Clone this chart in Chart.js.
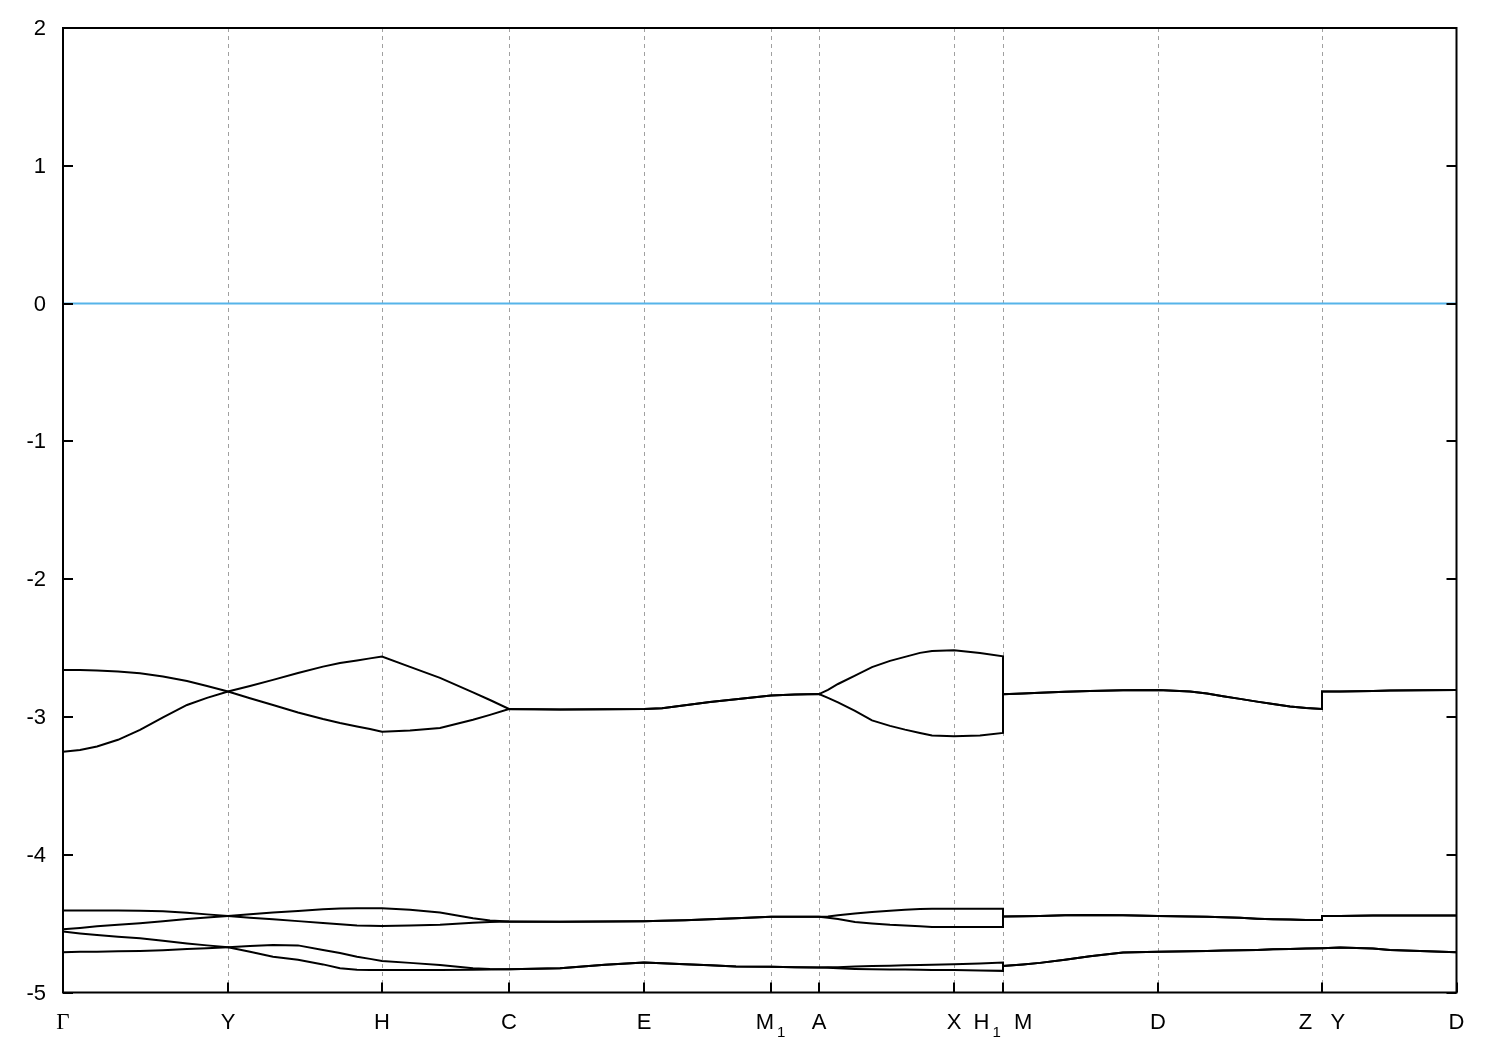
<!DOCTYPE html>
<html>
<head>
<meta charset="utf-8">
<script src="https://cdn.jsdelivr.net/npm/chart.js@4/dist/chart.umd.min.js"></script>
<style>
html,body{margin:0;padding:0;background:#ffffff;}
#c{display:block;}
</style>
</head>
<body>
<canvas id="c" width="1500" height="1050"></canvas>
<script>
// High-symmetry points along the k-path
const kTicks  = [0, 0.165, 0.319, 0.446, 0.581, 0.708, 0.756, 0.891, 0.940, 1.095, 1.259, 1.3935];
const kLabels = ["Γ", "Y", "H", "C", "E", "M_1", "A", "X", "H_1  M", "D", "Z   Y", "D"];
const yTicks  = [2, 1, 0, -1, -2, -3, -4, -5];
const fermiLevel = 0;

// k-points sampled along the path (a repeated k marks a discontinuity)
const kGrid = [
  0, 0.017, 0.034, 0.055, 0.077, 0.100, 0.124, 0.144, 0.165,
  0.187, 0.210, 0.235, 0.260, 0.277, 0.294, 0.307, 0.319,
  0.347, 0.377, 0.410, 0.427, 0.446,
  0.497, 0.542, 0.581, 0.599, 0.622, 0.647, 0.673, 0.708, 0.732, 0.756,
  0.765, 0.775, 0.792, 0.809, 0.827, 0.842, 0.857, 0.869, 0.891, 0.917, 0.940,
  0.940, 0.960, 0.977, 1.002, 1.027, 1.060, 1.095, 1.127, 1.144, 1.160, 1.177, 1.194, 1.210, 1.227, 1.243, 1.259,
  1.259, 1.277, 1.310, 1.327, 1.357, 1.3935];

// Band energies (eV)
const bandU1 = [
  -2.659, -2.659, -2.663, -2.670, -2.683, -2.706, -2.739, -2.775, -2.816,
  -2.865, -2.913, -2.968, -3.015, -3.044, -3.069, -3.087, -3.107,
  -3.098, -3.080, -3.021, -2.985, -2.942,
  -2.946, -2.944, -2.942, -2.937, -2.916, -2.892, -2.871, -2.844, -2.837, -2.834,
  -2.804, -2.761, -2.700, -2.638, -2.593, -2.564, -2.535, -2.521, -2.516, -2.536, -2.560,
  -2.835, -2.830, -2.824, -2.817, -2.811, -2.806, -2.804, -2.815, -2.830, -2.850, -2.869, -2.889, -2.906, -2.924, -2.935, -2.942,
  -2.816, -2.815, -2.811, -2.809, -2.806, -2.804];
const bandU2 = [
  -3.252, -3.240, -3.214, -3.166, -3.094, -3.004, -2.913, -2.862, -2.816,
  -2.775, -2.731, -2.681, -2.635, -2.608, -2.590, -2.575, -2.562,
  -2.637, -2.717, -2.822, -2.877, -2.942,
  -2.946, -2.944, -2.942, -2.937, -2.916, -2.892, -2.871, -2.844, -2.837, -2.834,
  -2.862, -2.895, -2.956, -3.025, -3.065, -3.092, -3.116, -3.134, -3.141, -3.134, -3.116,
  -2.835, -2.830, -2.824, -2.817, -2.811, -2.806, -2.804, -2.815, -2.830, -2.850, -2.869, -2.889, -2.906, -2.924, -2.935, -2.942,
  -2.816, -2.815, -2.811, -2.809, -2.806, -2.804];
const bandL1 = [
  -4.405, -4.405, -4.405, -4.405, -4.406, -4.411, -4.422, -4.433, -4.444,
  -4.457, -4.468, -4.482, -4.495, -4.505, -4.513, -4.515, -4.517,
  -4.514, -4.509, -4.493, -4.488, -4.485,
  -4.486, -4.485, -4.483, -4.480, -4.475, -4.468, -4.461, -4.451, -4.451, -4.451,
  -4.458, -4.466, -4.488, -4.499, -4.508, -4.513, -4.520, -4.524, -4.525, -4.525, -4.525,
  -4.449, -4.446, -4.444, -4.439, -4.437, -4.440, -4.444, -4.448, -4.450, -4.453, -4.458, -4.464, -4.468, -4.471, -4.473, -4.473,
  -4.444, -4.444, -4.442, -4.442, -4.442, -4.442];
const bandL2 = [
  -4.541, -4.531, -4.520, -4.509, -4.497, -4.483, -4.466, -4.455, -4.444,
  -4.432, -4.420, -4.408, -4.395, -4.390, -4.388, -4.388, -4.388,
  -4.400, -4.420, -4.461, -4.477, -4.485,
  -4.486, -4.485, -4.483, -4.480, -4.475, -4.468, -4.461, -4.451, -4.451, -4.451,
  -4.448, -4.440, -4.426, -4.415, -4.406, -4.400, -4.394, -4.393, -4.393, -4.393, -4.393,
  -4.449, -4.446, -4.444, -4.439, -4.437, -4.440, -4.444, -4.448, -4.450, -4.453, -4.458, -4.464, -4.468, -4.471, -4.473, -4.473,
  -4.444, -4.444, -4.442, -4.442, -4.442, -4.442];
const bandL3 = [
  -4.558, -4.571, -4.583, -4.595, -4.606, -4.624, -4.644, -4.658, -4.672,
  -4.705, -4.740, -4.763, -4.796, -4.824, -4.835, -4.836, -4.836,
  -4.836, -4.836, -4.834, -4.833, -4.831,
  -4.824, -4.799, -4.782, -4.787, -4.795, -4.803, -4.812, -4.814, -4.817, -4.819,
  -4.821, -4.824, -4.829, -4.832, -4.833, -4.833, -4.835, -4.836, -4.836, -4.840, -4.843,
  -4.807, -4.796, -4.785, -4.763, -4.737, -4.710, -4.705, -4.700, -4.698, -4.696, -4.693, -4.691, -4.687, -4.685, -4.681, -4.679,
  -4.679, -4.674, -4.680, -4.691, -4.698, -4.708];
const bandL4 = [
  -4.708, -4.705, -4.704, -4.701, -4.698, -4.693, -4.685, -4.679, -4.672,
  -4.662, -4.656, -4.658, -4.691, -4.713, -4.740, -4.756, -4.771,
  -4.785, -4.800, -4.824, -4.829, -4.831,
  -4.824, -4.799, -4.782, -4.787, -4.795, -4.803, -4.812, -4.814, -4.817, -4.819,
  -4.817, -4.816, -4.811, -4.807, -4.805, -4.803, -4.800, -4.799, -4.795, -4.789, -4.782,
  -4.807, -4.796, -4.785, -4.763, -4.737, -4.710, -4.705, -4.700, -4.698, -4.696, -4.693, -4.691, -4.687, -4.685, -4.681, -4.679,
  -4.679, -4.674, -4.680, -4.691, -4.698, -4.708];

const bands = [bandU1, bandU2, bandL1, bandL2, bandL3, bandL4];

const datasets = bands.map(b => ({
  data: kGrid.map((k, i) => ({x: k, y: b[i]})),
  borderColor: '#000000',
  borderWidth: 2,
  pointRadius: 0,
  tension: 0,
  fill: false,
  clip: false
}));
datasets.push({
  data: [{x: kTicks[0], y: fermiLevel}, {x: kTicks[kTicks.length - 1], y: fermiLevel}],
  borderColor: '#56b4e9',
  borderWidth: 2,
  pointRadius: 0,
  tension: 0,
  fill: false,
  clip: false
});

const SANS = '"Liberation Sans", Arial, Helvetica, sans-serif';
const SERIF = '"Liberation Serif", "Times New Roman", serif';
const FS = 22, FS_SUB = 15;

function drawRich(ctx, text, cx, baseline) {
  const parts = [];
  const re = /_(\w)/g;
  let last = 0, m;
  while ((m = re.exec(text)) !== null) {
    if (m.index > last) parts.push({t: text.slice(last, m.index), sub: false});
    parts.push({t: m[1], sub: true});
    last = m.index + m[0].length;
  }
  if (last < text.length) parts.push({t: text.slice(last), sub: false});
  const fontFor = p => {
    if (p.sub) return FS_SUB + 'px ' + SANS;
    if (/[\u0370-\u03FF]/.test(p.t)) return (FS + 1) + 'px ' + SERIF;
    return FS + 'px ' + SANS;
  };
  let total = 0;
  parts.forEach(p => { ctx.font = fontFor(p); p.w = ctx.measureText(p.t).width + (p.sub ? 4 : 0); total += p.w; });
  let x = cx - total / 2;
  ctx.textAlign = 'left';
  ctx.textBaseline = 'alphabetic';
  parts.forEach(p => {
    ctx.font = fontFor(p);
    ctx.fillText(p.t, x + (p.sub ? 3 : 0), baseline + (p.sub ? 8 : 0));
    x += p.w;
  });
}

const framePlugin = {
  id: 'frame',
  beforeDatasetsDraw(chart) {
    const {ctx, chartArea: a, scales: {x}} = chart;
    ctx.save();
    ctx.strokeStyle = '#a0a0a0';
    ctx.lineWidth = 1;
    ctx.setLineDash([4, 4]);
    kTicks.forEach(k => {
      const px = Math.round(x.getPixelForValue(k)) + 0.5;
      if (px < a.left + 3 || px > a.right - 3) return;
      ctx.beginPath();
      ctx.moveTo(px, a.top);
      ctx.lineTo(px, a.bottom);
      ctx.stroke();
    });
    ctx.restore();
  },
  afterDatasetsDraw(chart) {
    const {ctx, chartArea: a, scales: {x, y}} = chart;
    ctx.save();
    ctx.strokeStyle = '#000000';
    ctx.lineWidth = 2;
    ctx.setLineDash([]);
    ctx.strokeRect(a.left, a.top, a.right - a.left, a.bottom - a.top);
    ctx.beginPath();
    yTicks.forEach(v => {
      const py = Math.round(y.getPixelForValue(v));
      ctx.moveTo(a.left, py); ctx.lineTo(a.left + 10, py);
      ctx.moveTo(a.right, py); ctx.lineTo(a.right - 10, py);
    });
    kTicks.forEach(k => {
      const px = Math.round(x.getPixelForValue(k));
      ctx.moveTo(px, a.bottom); ctx.lineTo(px, a.bottom - 10);
    });
    ctx.stroke();

    ctx.fillStyle = '#000000';
    ctx.font = FS + 'px ' + SANS;
    ctx.textAlign = 'right';
    ctx.textBaseline = 'middle';
    yTicks.forEach(v => {
      ctx.fillText(String(v), a.left - 17, y.getPixelForValue(v) + 1);
    });
    kTicks.forEach((k, i) => {
      drawRich(ctx, kLabels[i], x.getPixelForValue(k), a.bottom + 36);
    });
    ctx.restore();
  }
};

new Chart(document.getElementById('c'), {
  type: 'line',
  data: {datasets},
  options: {
    responsive: false,
    animation: false,
    devicePixelRatio: 1,
    parsing: false,
    layout: {padding: {left: 63, top: 28, right: 43.5, bottom: 57.5}},
    plugins: {legend: {display: false}, tooltip: {enabled: false}},
    scales: {
      x: {type: 'linear', min: kTicks[0], max: kTicks[kTicks.length - 1], display: false},
      y: {type: 'linear', min: yTicks[yTicks.length - 1], max: yTicks[0], display: false}
    }
  },
  plugins: [framePlugin]
});
</script>
</body>
</html>
